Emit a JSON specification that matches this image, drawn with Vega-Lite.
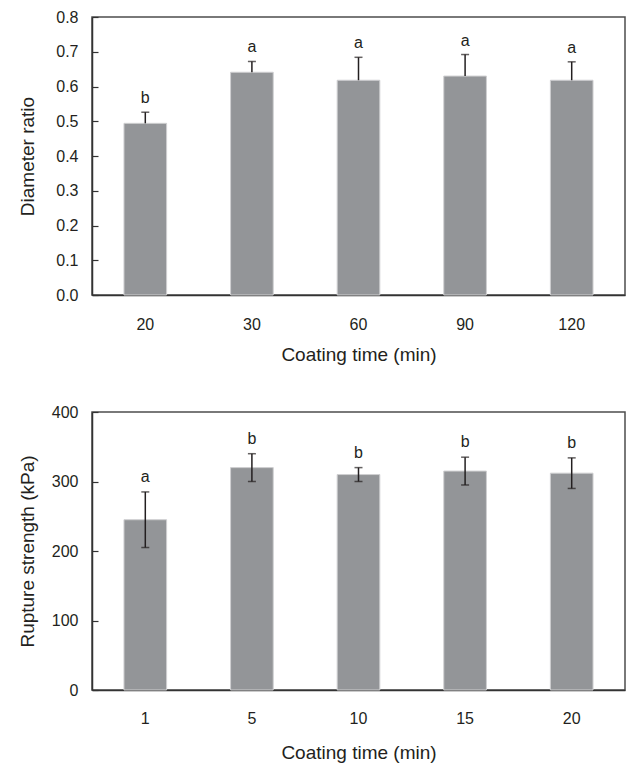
{
  "$schema": "https://vega.github.io/schema/vega-lite/v6.json",
  "padding": {"left": 17, "top": 8, "right": 0, "bottom": 0},
  "background": "white",
  "datasets": {
    "diameter": [
      {"time": "20", "mean": 0.494, "upper": 0.526, "letter": "b"},
      {"time": "30", "mean": 0.641, "upper": 0.672, "letter": "a"},
      {"time": "60", "mean": 0.618, "upper": 0.684, "letter": "a"},
      {"time": "90", "mean": 0.630, "upper": 0.692, "letter": "a"},
      {"time": "120", "mean": 0.618, "upper": 0.671, "letter": "a"}
    ],
    "rupture": [
      {"time": "1", "mean": 245, "lower": 205, "upper": 285, "letter": "a"},
      {"time": "5", "mean": 320, "lower": 300, "upper": 340, "letter": "b"},
      {"time": "10", "mean": 310, "lower": 300, "upper": 320, "letter": "b"},
      {"time": "15", "mean": 315, "lower": 295, "upper": 335, "letter": "b"},
      {"time": "20", "mean": 312, "lower": 290, "upper": 334, "letter": "b"}
    ]
  },
  "spacing": 117,
  "bounds": "flush",
  "vconcat": [
    {
      "width": 533,
      "height": 278,
      "data": {"name": "diameter"},
      "encoding": {
        "x": {
          "field": "time", "type": "ordinal", "sort": null,
          "scale": {"paddingInner": 0.6, "paddingOuter": 0.3},
          "axis": {"title": "Coating time (min)", "labelAngle": 0, "ticks": false, "labelPadding": 21, "titlePadding": 13}
        }
      },
      "layer": [
        {
          "mark": {"type": "bar", "color": "#939598", "stroke": "#cfcfd1", "strokeWidth": 1},
          "encoding": {
            "y": {
              "field": "mean", "type": "quantitative",
              "scale": {"domain": [0, 0.8]},
              "axis": {"title": "Diameter ratio", "values": [0, 0.1, 0.2, 0.3, 0.4, 0.5, 0.6, 0.7, 0.8], "format": ".1f", "labelOverlap": false, "tickSize": -6, "labelPadding": 20, "titleX": -59, "titleBaseline": "alphabetic"}
            }
          }
        },
        {
          "mark": {"type": "rule", "color": "#231f20", "strokeWidth": 1.5},
          "encoding": {
            "y": {"field": "mean", "type": "quantitative",
              "axis": {"title": "Diameter ratio", "values": [0, 0.1, 0.2, 0.3, 0.4, 0.5, 0.6, 0.7, 0.8], "format": ".1f", "labelOverlap": false, "tickSize": -6, "labelPadding": 20, "titleX": -59, "titleBaseline": "alphabetic"}},
            "y2": {"field": "upper"}
          }
        },
        {
          "mark": {"type": "tick", "color": "#231f20", "size": 8, "thickness": 1.5, "orient": "horizontal"},
          "encoding": {
            "y": {"field": "upper", "type": "quantitative",
              "axis": {"title": "Diameter ratio", "values": [0, 0.1, 0.2, 0.3, 0.4, 0.5, 0.6, 0.7, 0.8], "format": ".1f", "labelOverlap": false, "tickSize": -6, "labelPadding": 20, "titleX": -59, "titleBaseline": "alphabetic"}}
          }
        },
        {
          "mark": {"type": "text", "fontSize": 16, "color": "#231f20", "baseline": "alphabetic", "dy": -9},
          "encoding": {
            "y": {"field": "upper", "type": "quantitative",
              "axis": {"title": "Diameter ratio", "values": [0, 0.1, 0.2, 0.3, 0.4, 0.5, 0.6, 0.7, 0.8], "format": ".1f", "labelOverlap": false, "tickSize": -6, "labelPadding": 20, "titleX": -59, "titleBaseline": "alphabetic"}},
            "text": {"field": "letter"}
          }
        }
      ]
    },
    {
      "width": 533,
      "height": 278,
      "data": {"name": "rupture"},
      "encoding": {
        "x": {
          "field": "time", "type": "ordinal", "sort": null,
          "scale": {"paddingInner": 0.6, "paddingOuter": 0.3},
          "axis": {"title": "Coating time (min)", "labelAngle": 0, "ticks": false, "labelPadding": 20, "titlePadding": 17}
        }
      },
      "layer": [
        {
          "mark": {"type": "bar", "color": "#939598", "stroke": "#cfcfd1", "strokeWidth": 1},
          "encoding": {
            "y": {
              "field": "mean", "type": "quantitative",
              "scale": {"domain": [0, 400]},
              "axis": {"title": "Rupture strength (kPa)", "values": [0, 100, 200, 300, 400], "labelOverlap": false, "tickSize": -6, "labelPadding": 20, "titleX": -59, "titleBaseline": "alphabetic"}
            }
          }
        },
        {
          "mark": {"type": "rule", "color": "#231f20", "strokeWidth": 1.5},
          "encoding": {
            "y": {"field": "lower", "type": "quantitative",
              "axis": {"title": "Rupture strength (kPa)", "values": [0, 100, 200, 300, 400], "labelOverlap": false, "tickSize": -6, "labelPadding": 20, "titleX": -59, "titleBaseline": "alphabetic"}},
            "y2": {"field": "upper"}
          }
        },
        {
          "mark": {"type": "tick", "color": "#231f20", "size": 8, "thickness": 1.5, "orient": "horizontal"},
          "encoding": {
            "y": {"field": "upper", "type": "quantitative",
              "axis": {"title": "Rupture strength (kPa)", "values": [0, 100, 200, 300, 400], "labelOverlap": false, "tickSize": -6, "labelPadding": 20, "titleX": -59, "titleBaseline": "alphabetic"}}
          }
        },
        {
          "mark": {"type": "tick", "color": "#231f20", "size": 8, "thickness": 1.5, "orient": "horizontal"},
          "encoding": {
            "y": {"field": "lower", "type": "quantitative",
              "axis": {"title": "Rupture strength (kPa)", "values": [0, 100, 200, 300, 400], "labelOverlap": false, "tickSize": -6, "labelPadding": 20, "titleX": -59, "titleBaseline": "alphabetic"}}
          }
        },
        {
          "mark": {"type": "text", "fontSize": 16, "color": "#231f20", "baseline": "alphabetic", "dy": -10},
          "encoding": {
            "y": {"field": "upper", "type": "quantitative",
              "axis": {"title": "Rupture strength (kPa)", "values": [0, 100, 200, 300, 400], "labelOverlap": false, "tickSize": -6, "labelPadding": 20, "titleX": -59, "titleBaseline": "alphabetic"}},
            "text": {"field": "letter"}
          }
        }
      ]
    }
  ],
  "config": {
    "font": "Liberation Sans",
    "view": {"stroke": "#4d4d4d", "strokeWidth": 1.5},
    "axis": {
      "grid": false,
      "domainColor": "#333333",
      "domainWidth": 1.5,
      "tickColor": "#333333",
      "tickWidth": 1.2,
      "labelFontSize": 16,
      "labelColor": "#231f20",
      "titleFontSize": 19,
      "titleFontWeight": "normal",
      "titleColor": "#231f20"
    }
  }
}
